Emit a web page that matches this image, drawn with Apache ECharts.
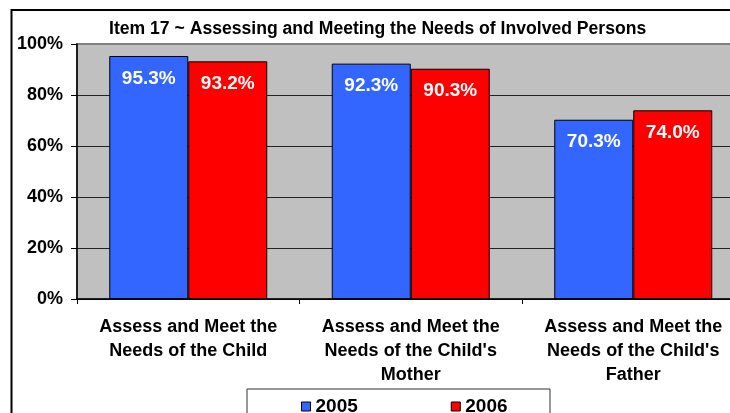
<!DOCTYPE html>
<html>
<head>
<meta charset="utf-8">
<script src="https://cdn.jsdelivr.net/npm/echarts@6/dist/echarts.min.js"></script>
<style>
  html, body { margin: 0; padding: 0; background: #fff; overflow: hidden; width: 730px; height: 413px; }
  #main { width: 770px; height: 430px; }
</style>
</head>
<body>
<div id="main"></div>
<script>
var categories = [
  'Assess and Meet the\nNeeds of the Child',
  "Assess and Meet the\nNeeds of the Child's\nMother",
  "Assess and Meet the\nNeeds of the Child's\nFather"
];
var values2005 = [95.3, 92.3, 70.3];
var values2006 = [93.2, 90.3, 74.0];
var seriesNames = ['2005', '2006'];
var yMin = 0, yMax = 100, yStep = 20;

var font = 'Liberation Sans, Arial, sans-serif';
var myChart = echarts.init(document.getElementById('main'));

function barLabel() {
  return {
    show: true,
    position: 'insideTop',
    distance: 13,
    color: '#fff',
    fontFamily: font,
    fontWeight: 'bold',
    fontSize: 19,
    formatter: function (p) { return p.value.toFixed(1) + '%'; }
  };
}

option = {
  animation: false,
  backgroundColor: '#fff',
  title: {
    text: 'Item 17 ~ Assessing and Meeting the Needs of Involved Persons',
    left: 104,
    top: 15,
    textStyle: { fontFamily: font, fontWeight: 'bold', fontSize: 17.6, color: '#000' }
  },
  legend: {
    left: 296,
    top: 392,
    itemGap: 93,
    itemWidth: 9,
    itemHeight: 9,
    icon: 'rect',
    itemStyle: { borderColor: '#000', borderWidth: 1 },
    textStyle: { fontFamily: font, fontWeight: 'bold', fontSize: 19, color: '#000' },
    data: seriesNames
  },
  grid: {
    left: 77,
    top: 44,
    width: 667.5,
    height: 255,
    show: true,
    backgroundColor: '#C0C0C0',
    borderColor: '#808080',
    borderWidth: 2
  },
  xAxis: {
    type: 'category',
    data: categories,
    axisLine: { lineStyle: { color: '#000', width: 1.5 } },
    axisTick: { show: true, length: 5, lineStyle: { color: '#000' } },
    axisLabel: {
      interval: 0,
      hideOverlap: false,
      margin: 16,
      fontFamily: font,
      fontWeight: 'bold',
      fontSize: 18,
      lineHeight: 24,
      color: '#000',
      align: 'center'
    }
  },
  yAxis: {
    type: 'value',
    min: yMin,
    max: yMax,
    interval: yStep,
    axisLine: { show: true, lineStyle: { color: '#000', width: 1.5 } },
    axisTick: { show: true, length: 6, lineStyle: { color: '#000' } },
    splitLine: {
      show: true,
      lineStyle: { color: ['#222', '#222', '#222', '#222', '#222', '#808080'], width: 1 }
    },
    axisLabel: {
      margin: 14,
      fontFamily: font,
      fontWeight: 'bold',
      fontSize: 18,
      color: '#000',
      formatter: '{value}%'
    }
  },
  graphic: [
    {
      type: 'rect',
      shape: { x: 11.5, y: 10, width: 800, height: 500 },
      style: { fill: 'none', stroke: '#000', lineWidth: 2 },
      silent: true, z: -1
    },
    {
      type: 'rect',
      shape: { x: 247, y: 389, width: 303, height: 40 },
      style: { fill: '#fff', stroke: '#333', lineWidth: 1 },
      silent: true, z: -1
    }
  ],
  series: [
    {
      name: seriesNames[0],
      type: 'bar',
      data: values2005,
      barWidth: 79,
      barGap: 0,
      itemStyle: { color: '#3366FF', borderColor: '#000', borderWidth: 1 },
      label: barLabel()
    },
    {
      name: seriesNames[1],
      type: 'bar',
      data: values2006,
      barWidth: 79,
      barGap: 0,
      itemStyle: { color: '#FF0000', borderColor: '#000', borderWidth: 1 },
      label: barLabel()
    }
  ]
};
myChart.setOption(option);
</script>
</body>
</html>
